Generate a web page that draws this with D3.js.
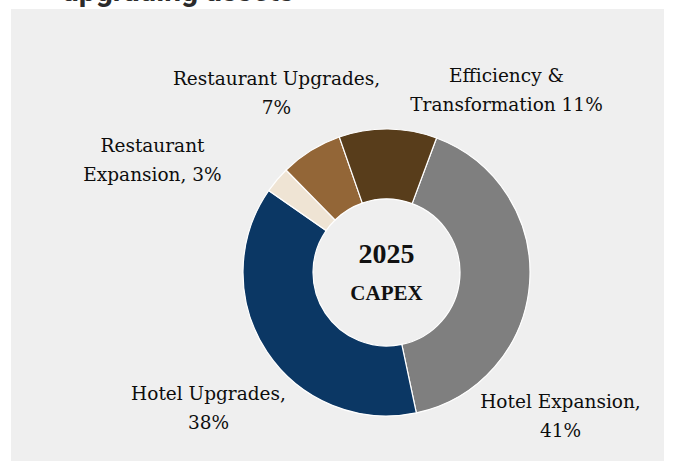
<!DOCTYPE html>
<html>
<head>
<meta charset="utf-8">
<script src="https://cdn.jsdelivr.net/npm/d3@7"></script>
<style>
  html, body { margin: 0; padding: 0; background: #fff; }
  svg { display: block; }
</style>
</head>
<body>
<div id="chart"></div>
<script>
// slice order runs clockwise, starting just right of 12 o'clock
const categories = ["Hotel Expansion", "Hotel Upgrades", "Restaurant Expansion", "Restaurant Upgrades", "Efficiency & Transformation"];
const shares = [41, 38, 3, 7, 11];
const labelTemplates = [
    "Hotel Expansion,\n{v}%",
    "Hotel Upgrades,\n{v}%",
    "Restaurant\nExpansion, {v}%",
    "Restaurant Upgrades,\n{v}%",
    "Efficiency &\nTransformation {v}%"
];
const sliceColors = ["#7f7f7f", "#0b3764", "#efe4d4", "#936637", "#583d1b"];
const centerLines = ["2025", "CAPEX"];
const titleText = "upgrading assets";

const width = 674, height = 463;
const cx = 386.5, cy = 272.5;
const outerR = 143.5, innerR = 73.5;
const startDeg = 20.4;
// label anchor (centre of text, first baseline) relative to the donut centre
const labelOffsets = [[174, 135.5], [-178, 127.5], [-234, -120.5], [-110, -187.5], [120, -190.5]];
const lineGap = 28.5;

const svg = d3.select("#chart").append("svg")
    .attr("width", width)
    .attr("height", height);

svg.append("rect")
    .attr("x", 11).attr("y", 9)
    .attr("width", 653).attr("height", 452)
    .attr("fill", "#efefef");

// clipped heading from the slide above
svg.append("text")
    .attr("x", 62).attr("y", 0.5)
    .attr("font-family", "Roboto, 'Liberation Sans', sans-serif")
    .attr("font-weight", 700)
    .attr("font-size", 30)
    .attr("fill", "#2b2b2b")
    .text(titleText);

const data = categories.map((c, i) => ({ name: c, value: shares[i], i: i }));

const pie = d3.pie()
    .value(d => d.value)
    .sort(null)
    .startAngle(startDeg * Math.PI / 180)
    .endAngle(startDeg * Math.PI / 180 + 2 * Math.PI);

const arc = d3.arc().innerRadius(innerR).outerRadius(outerR);

const g = svg.append("g").attr("transform", `translate(${cx},${cy})`);

g.selectAll("path")
    .data(pie(data))
    .join("path")
    .attr("d", arc)
    .attr("fill", d => sliceColors[d.data.i])
    .attr("stroke", "#ffffff")
    .attr("stroke-width", 1.2);

const labelFont = "'DejaVu Serif', 'Liberation Serif', serif";
const centerFont = "'Liberation Serif', 'DejaVu Serif', serif";

const labels = g.selectAll("text.lbl")
    .data(data)
    .join("text")
    .attr("class", "lbl")
    .attr("text-anchor", "middle")
    .attr("font-family", labelFont)
    .attr("font-size", 18.5)
    .attr("fill", "#0d0d0d");

labels.each(function(d) {
    const lines = labelTemplates[d.i].replace("{v}", d.value).split("\n");
    const off = labelOffsets[d.i];
    d3.select(this).selectAll("tspan")
        .data(lines)
        .join("tspan")
        .attr("x", off[0])
        .attr("y", (l, k) => off[1] + k * lineGap)
        .text(l => l);
});

g.append("text")
    .attr("text-anchor", "middle")
    .attr("y", -9.5)
    .attr("font-family", centerFont)
    .attr("font-weight", 700)
    .attr("font-size", 28)
    .attr("fill", "#111")
    .text(centerLines[0]);

g.append("text")
    .attr("text-anchor", "middle")
    .attr("y", 27.5)
    .attr("font-family", centerFont)
    .attr("font-weight", 700)
    .attr("font-size", 21)
    .attr("fill", "#111")
    .text(centerLines[1]);
</script>
</body>
</html>
